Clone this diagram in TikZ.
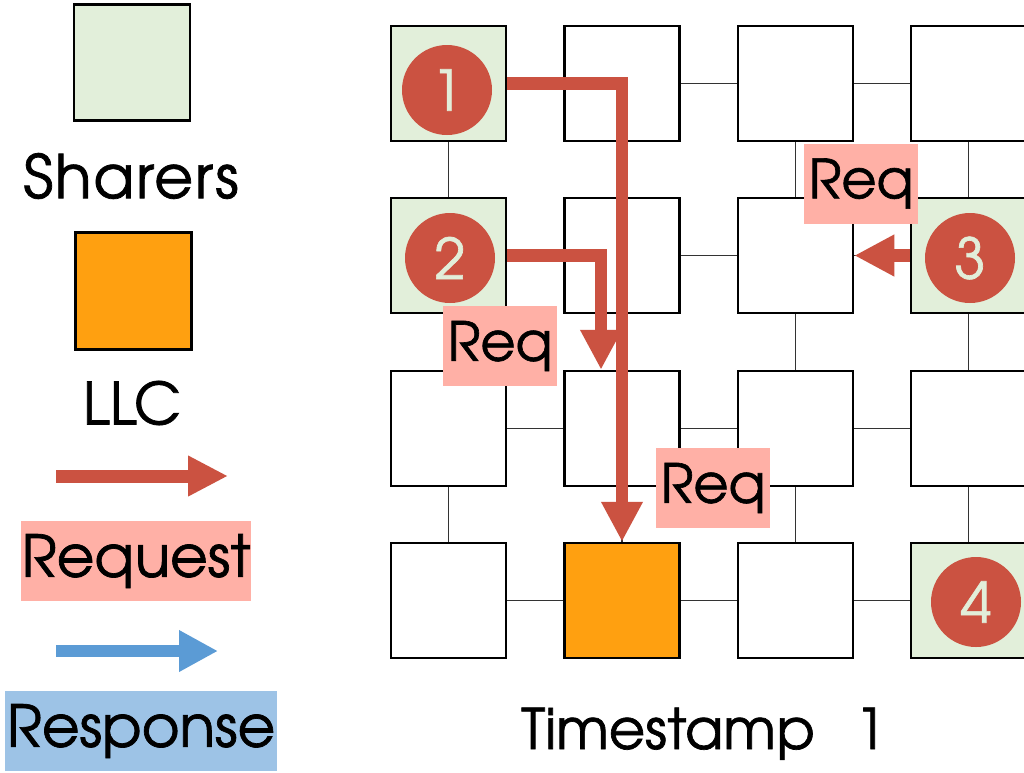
\documentclass[tikz,border=0pt]{standalone}
\usepackage{fontspec}
\setmainfont{texgyreadventor-regular.otf}[FakeBold=1.2]
\usetikzlibrary{arrows.meta}
\definecolor{sharer}{RGB}{226,239,218}
\definecolor{llc}{RGB}{255,160,16}
\definecolor{reqred}{RGB}{203,82,65}
\definecolor{reqpink}{RGB}{255,176,166}
\definecolor{resblue}{RGB}{91,155,213}
\definecolor{respale}{RGB}{157,195,230}
\definecolor{digit}{RGB}{226,238,217}
\begin{document}
\begin{tikzpicture}[x=1pt,y=-1pt,
  tile/.style={draw=black,line width=2.5pt,minimum size=115pt,inner sep=0pt,fill=white},
  link/.style={draw=black!80,line width=1.3pt},
  num/.style={circle,fill=reqred,text=digit,minimum size=90pt,inner sep=0pt,font=\fontsize{56}{60}\selectfont},
  reqarrow/.style={draw=reqred,line width=12.5pt,-{Triangle[width=39pt,length=40pt]}},
  resarrow/.style={draw=resblue,line width=12pt,-{Triangle[width=39pt,length=39pt]}},
  reqlabel/.style={fill=reqpink,minimum width=114pt,minimum height=80pt,inner sep=0pt,font=\fontsize{54}{56}\selectfont},
  legtext/.style={inner sep=0pt,font=\fontsize{58}{62}\selectfont},
]
\useasboundingbox (0,0) rectangle (1024,772);
\clip (0,0) rectangle (1024,772);
\fill[white] (0,0) rectangle (1024,772);

% grid tiles
\foreach \r/\y in {1/83.5,2/255.5,3/428.5,4/600.5}{
  \foreach \c/\x in {1/448.5,2/622,3/795.5,4/968.5}{
    \node[tile] (b\r\c) at (\x,\y) {};
  }
}
\node[tile,fill=sharer] at (b11) {};
\node[tile,fill=sharer] at (b21) {};
\node[tile,fill=sharer] at (b24) {};
\node[tile,fill=sharer] at (b44) {};
\node[tile,fill=llc] at (b42) {};

% mesh links
\foreach \r in {1,2,3,4}{
  \draw[link] (b\r1) -- (b\r2);
  \draw[link] (b\r2) -- (b\r3);
  \draw[link] (b\r3) -- (b\r4);
}
\foreach \c in {1,2,3,4}{
  \draw[link] (b1\c) -- (b2\c);
  \draw[link] (b2\c) -- (b3\c);
  \draw[link] (b3\c) -- (b4\c);
}

% numbered sharers
\node[num] (c1) at (447,90) {1};
\node[num] (c2) at (450,258) {2};
\node[num] (c3) at (970,258) {3};
\node[num] (c4) at (976,602) {4};

% request arrows
\draw[reqarrow] (b11.east) -| (b42.north);
\draw[reqarrow] (b21.east) -| ([xshift=-21pt]b32.north);
\draw[reqarrow] (b24.west) -- (b23.east);

% request labels
\node[reqlabel] (q1) at (861,183.5) {Req};
\node[reqlabel] (q2) at (500,346) {Req};
\node[reqlabel] (q3) at (713,488) {Req};

% legend
\node[draw=black,line width=2.5pt,fill=sharer,minimum width=116pt,minimum height=116pt,inner sep=0pt] (lsh) at (132,62.5) {};
\node[legtext,font=\fontsize{60}{62}\selectfont\addfontfeature{LetterSpace=3}] (tsh) at (131,176) {Sharers};
\node[draw=black,line width=2.5pt,fill=llc,minimum width=116pt,minimum height=117pt,inner sep=0pt] (lllc) at (133.5,291) {};
\node[legtext] (tllc) at (132,403) {LLC};
\coordinate (ra1) at (56,476);
\coordinate (ra2) at (228,476);
\draw[reqarrow,line width=13pt,-{Triangle[width=38pt,length=40pt]}] (ra1) -- (ra2);
\node[legtext,fill=reqpink,minimum width=230pt,minimum height=80pt] (treq) at (136,561) {Request};
\coordinate (sa1) at (56,651);
\coordinate (sa2) at (218,651);
\draw[resarrow] (sa1) -- (sa2);
\node[legtext,fill=respale,minimum width=272pt,minimum height=80pt] (tres) at (141,731) {Response};

% caption
\node[anchor=base west,inner sep=0pt,font=\fontsize{56}{60}\selectfont] (cap) at (521,749) {Timestamp\hspace{40pt}1};
\end{tikzpicture}
\end{document}
